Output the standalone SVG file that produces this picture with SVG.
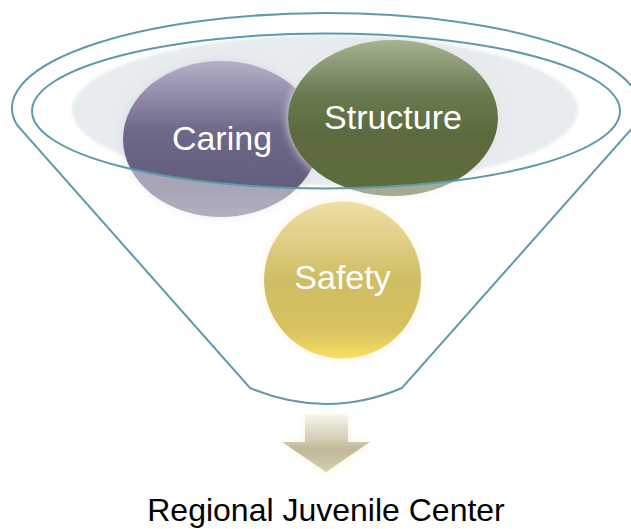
<svg xmlns="http://www.w3.org/2000/svg" width="631" height="529" viewBox="0 0 631 529">
  <style>
    .funnel-line { fill: none; stroke: #5e9aab; stroke-width: 2; }
    .node-label { font-family: "Liberation Sans", Arial, sans-serif; font-size: 34px; fill: #ffffff; text-anchor: middle; }
    .caption { font-family: "Liberation Sans", Arial, sans-serif; font-size: 32px; fill: #000000; text-anchor: middle; }
  </style>
  <defs>
    <linearGradient id="gCaring" x1="0" y1="0" x2="0" y2="1">
      <stop offset="0" stop-color="#b5afc7"/>
      <stop offset="0.45" stop-color="#6e6888"/>
      <stop offset="0.8" stop-color="#645e7e"/>
      <stop offset="1" stop-color="#777290"/>
    </linearGradient>
    <linearGradient id="gStructure" x1="0" y1="0" x2="0" y2="1">
      <stop offset="0" stop-color="#a7b293"/>
      <stop offset="0.35" stop-color="#6a7a50"/>
      <stop offset="0.6" stop-color="#5b6b3f"/>
      <stop offset="1" stop-color="#5b6d3e"/>
    </linearGradient>
    <linearGradient id="gSafety" x1="0" y1="0" x2="0" y2="1">
      <stop offset="0" stop-color="#efdfa6"/>
      <stop offset="0.5" stop-color="#cfbd64"/>
      <stop offset="0.82" stop-color="#d7c25f"/>
      <stop offset="1" stop-color="#fadf5e"/>
    </linearGradient>
    <linearGradient id="gArrow" x1="0" y1="0" x2="0" y2="1">
      <stop offset="0" stop-color="#f6f4ec"/>
      <stop offset="0.45" stop-color="#d2cbb1"/>
      <stop offset="0.6" stop-color="#c0b898"/>
      <stop offset="1" stop-color="#d6cdac"/>
    </linearGradient>
    <filter id="glowCaring" x="-20%" y="-20%" width="140%" height="140%">
      <feGaussianBlur in="SourceAlpha" stdDeviation="5" result="b"/>
      <feFlood flood-color="#d9d5e3" flood-opacity="0.9"/>
      <feComposite in2="b" operator="in" result="g"/>
      <feMerge><feMergeNode in="g"/><feMergeNode in="SourceGraphic"/></feMerge>
    </filter>
    <filter id="glowStructure" x="-20%" y="-20%" width="140%" height="140%">
      <feGaussianBlur in="SourceAlpha" stdDeviation="5" result="b"/>
      <feFlood flood-color="#e4e7df" flood-opacity="0.95"/>
      <feComposite in2="b" operator="in" result="g"/>
      <feMerge><feMergeNode in="g"/><feMergeNode in="SourceGraphic"/></feMerge>
    </filter>
    <filter id="glowSafety" x="-20%" y="-20%" width="140%" height="140%">
      <feGaussianBlur in="SourceAlpha" stdDeviation="5" result="b"/>
      <feFlood flood-color="#fbf3d6" flood-opacity="1"/>
      <feComposite in2="b" operator="in" result="g"/>
      <feMerge><feMergeNode in="g"/><feMergeNode in="SourceGraphic"/></feMerge>
    </filter>
    <filter id="glowArrow" x="-30%" y="-30%" width="160%" height="160%">
      <feGaussianBlur in="SourceAlpha" stdDeviation="4" result="b"/>
      <feFlood flood-color="#faf3dc" flood-opacity="1"/>
      <feComposite in2="b" operator="in" result="g"/>
      <feMerge><feMergeNode in="g"/><feMergeNode in="SourceGraphic"/></feMerge>
    </filter>
    <filter id="soft" x="-5%" y="-10%" width="110%" height="120%">
      <feGaussianBlur stdDeviation="1.5"/>
    </filter>
    <mask id="funnelMask" maskUnits="userSpaceOnUse" x="0" y="0" width="631" height="529">
      <rect x="0" y="0" width="631" height="529" fill="#ffffff" fill-opacity="0.57"/>
      <ellipse cx="326" cy="111" rx="294" ry="77.5" fill="#ffffff"/>
    </mask>
  </defs>

  <rect width="631" height="529" fill="#ffffff"/>

  <g id="funnel-back">
    <ellipse cx="325" cy="110" rx="253" ry="75" fill="#e7ecef" filter="url(#soft)"/>
  </g>

  <g id="node-caring">
    <g mask="url(#funnelMask)">
      <ellipse cx="221" cy="139" rx="98" ry="78" fill="url(#gCaring)" filter="url(#glowCaring)"/>
    </g>
    <text class="node-label" x="222" y="150">Caring</text>
  </g>

  <g id="node-structure">
    <g mask="url(#funnelMask)">
      <ellipse cx="393" cy="118" rx="105" ry="78" fill="url(#gStructure)" filter="url(#glowStructure)"/>
    </g>
    <text class="node-label" x="393" y="129">Structure</text>
  </g>

  <g id="node-safety">
    <circle cx="342.5" cy="280" r="78.5" fill="url(#gSafety)" filter="url(#glowSafety)"/>
    <text class="node-label" x="342.5" y="289">Safety</text>
  </g>

  <g id="funnel">
    <path class="funnel-line" d="M 17 125 A 314 95 0 1 1 635 125 L 402 388 Q 326 420 250 388 Z"/>
    <ellipse class="funnel-line" cx="326" cy="111" rx="294" ry="77.5"/>
  </g>

  <g id="connectors">
    <polygon id="arrow" points="305,415 348,415 348,442 370,442 326,472 282,442 305,442" fill="url(#gArrow)" filter="url(#glowArrow)"/>
  </g>

  <g id="node-center">
    <text class="caption" x="326" y="521">Regional Juvenile Center</text>
  </g>
</svg>
